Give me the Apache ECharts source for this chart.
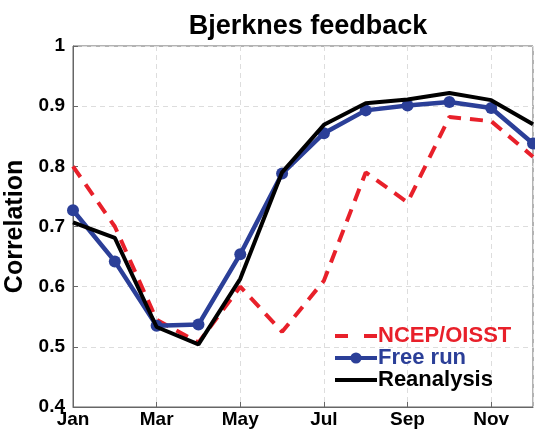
<!DOCTYPE html>
<html>
<head>
<meta charset="utf-8">
<script src="https://cdn.jsdelivr.net/npm/echarts@6/dist/echarts.min.js"></script>
<style>
  html, body { margin: 0; padding: 0; background: #fff; }
  #chart { width: 535px; height: 432px; }
</style>
</head>
<body>
<div id="chart"></div>
<script>
const months = ["Jan", "Feb", "Mar", "Apr", "May", "Jun", "Jul", "Aug", "Sep", "Oct", "Nov", "Dec"];
const ncep = [0.80, 0.70, 0.545, 0.507, 0.60, 0.525, 0.61, 0.79, 0.74, 0.882, 0.875, 0.816];
const freeRun = [0.727, 0.642, 0.535, 0.537, 0.654, 0.788, 0.855, 0.893, 0.901, 0.907, 0.897, 0.838];
const reanalysis = [0.707, 0.681, 0.533, 0.504, 0.613, 0.79, 0.869, 0.905, 0.911, 0.922, 0.91, 0.87];

const red = "#e8202a";
const blue = "#2b3f98";
const black = "#000000";
const font = "Liberation Sans";

const pairs = arr => arr.map((v, i) => [i + 1, v]);

const chart = echarts.init(document.getElementById("chart"));

chart.setOption({
    animation: false,
    title: {
        text: "Bjerknes feedback",
        left: 303,
        top: 8,
        textAlign: "center",
        textStyle: { fontFamily: font, fontWeight: "bold", fontSize: 27, color: "#000" }
    },
    grid: {
        left: 73, top: 46, width: 460, height: 361,
        outerBoundsMode: "none",
        containLabel: false,
        show: true, borderColor: "#666", borderWidth: 1
    },
    legend: {
        orient: "vertical",
        left: 328,
        top: 320,
        itemWidth: 42,
        itemHeight: 14,
        itemGap: 0,
        textStyle: { fontFamily: font, fontWeight: "bold", fontSize: 22, lineHeight: 22, padding: [0, 0, 0, -4] },
        data: [
            { name: "NCEP/OISST", textStyle: { color: red }, lineStyle: { width: 4, type: [13, 16] },
              itemStyle: { color: "rgba(0,0,0,0)", borderWidth: 0 } },
            { name: "Free run", textStyle: { color: blue }, lineStyle: { width: 4 } },
            { name: "Reanalysis", textStyle: { color: black }, lineStyle: { width: 4 },
              itemStyle: { color: "rgba(0,0,0,0)", borderWidth: 0 } }
        ]
    },
    xAxis: {
        type: "value",
        min: 1,
        max: 12,
        interval: 2,
        axisLine: { lineStyle: { color: "#666" } },
        axisTick: { inside: true, length: 5, lineStyle: { color: "#666" } },
        axisLabel: {
            margin: 3,
            color: "#000",
            fontFamily: font, fontWeight: "bold", fontSize: 19,
            showMaxLabel: false,
            formatter: v => months[v - 1] || ""
        },
        splitLine: { show: true, lineStyle: { color: "#ddd", type: [5, 4] } }
    },
    yAxis: {
        type: "value",
        min: 0.4,
        max: 1,
        interval: 0.1,
        name: "Correlation",
        nameLocation: "middle",
        nameGap: 40,
        nameTextStyle: { fontFamily: font, fontWeight: "bold", fontSize: 25, color: "#000" },
        axisLine: { show: true, lineStyle: { color: "#666" } },
        axisTick: { show: true, inside: true, length: 5, lineStyle: { color: "#666" } },
        axisLabel: {
            margin: 8,
            color: "#000",
            fontFamily: font, fontWeight: "bold", fontSize: 19,
            formatter: v => (Math.abs(v - 1) < 1e-6 ? "1" : v.toFixed(1))
        },
        splitLine: { show: true, lineStyle: { color: "#ddd", type: [5, 4] } }
    },
    series: [
        {
            name: "NCEP/OISST",
            type: "line",
            data: pairs(ncep),
            showSymbol: false,
            symbol: "none",
            color: red,
            lineStyle: { color: red, width: 4, type: [13, 9] },
            z: 2
        },
        {
            name: "Free run",
            type: "line",
            data: pairs(freeRun),
            symbol: "circle",
            symbolSize: 12,
            color: blue,
            itemStyle: { color: blue },
            lineStyle: { color: blue, width: 4.5 },
            z: 3
        },
        {
            name: "Reanalysis",
            type: "line",
            data: pairs(reanalysis),
            symbol: "none",
            color: black,
            lineStyle: { color: black, width: 4 },
            z: 4
        }
    ]
});
</script>
</body>
</html>
